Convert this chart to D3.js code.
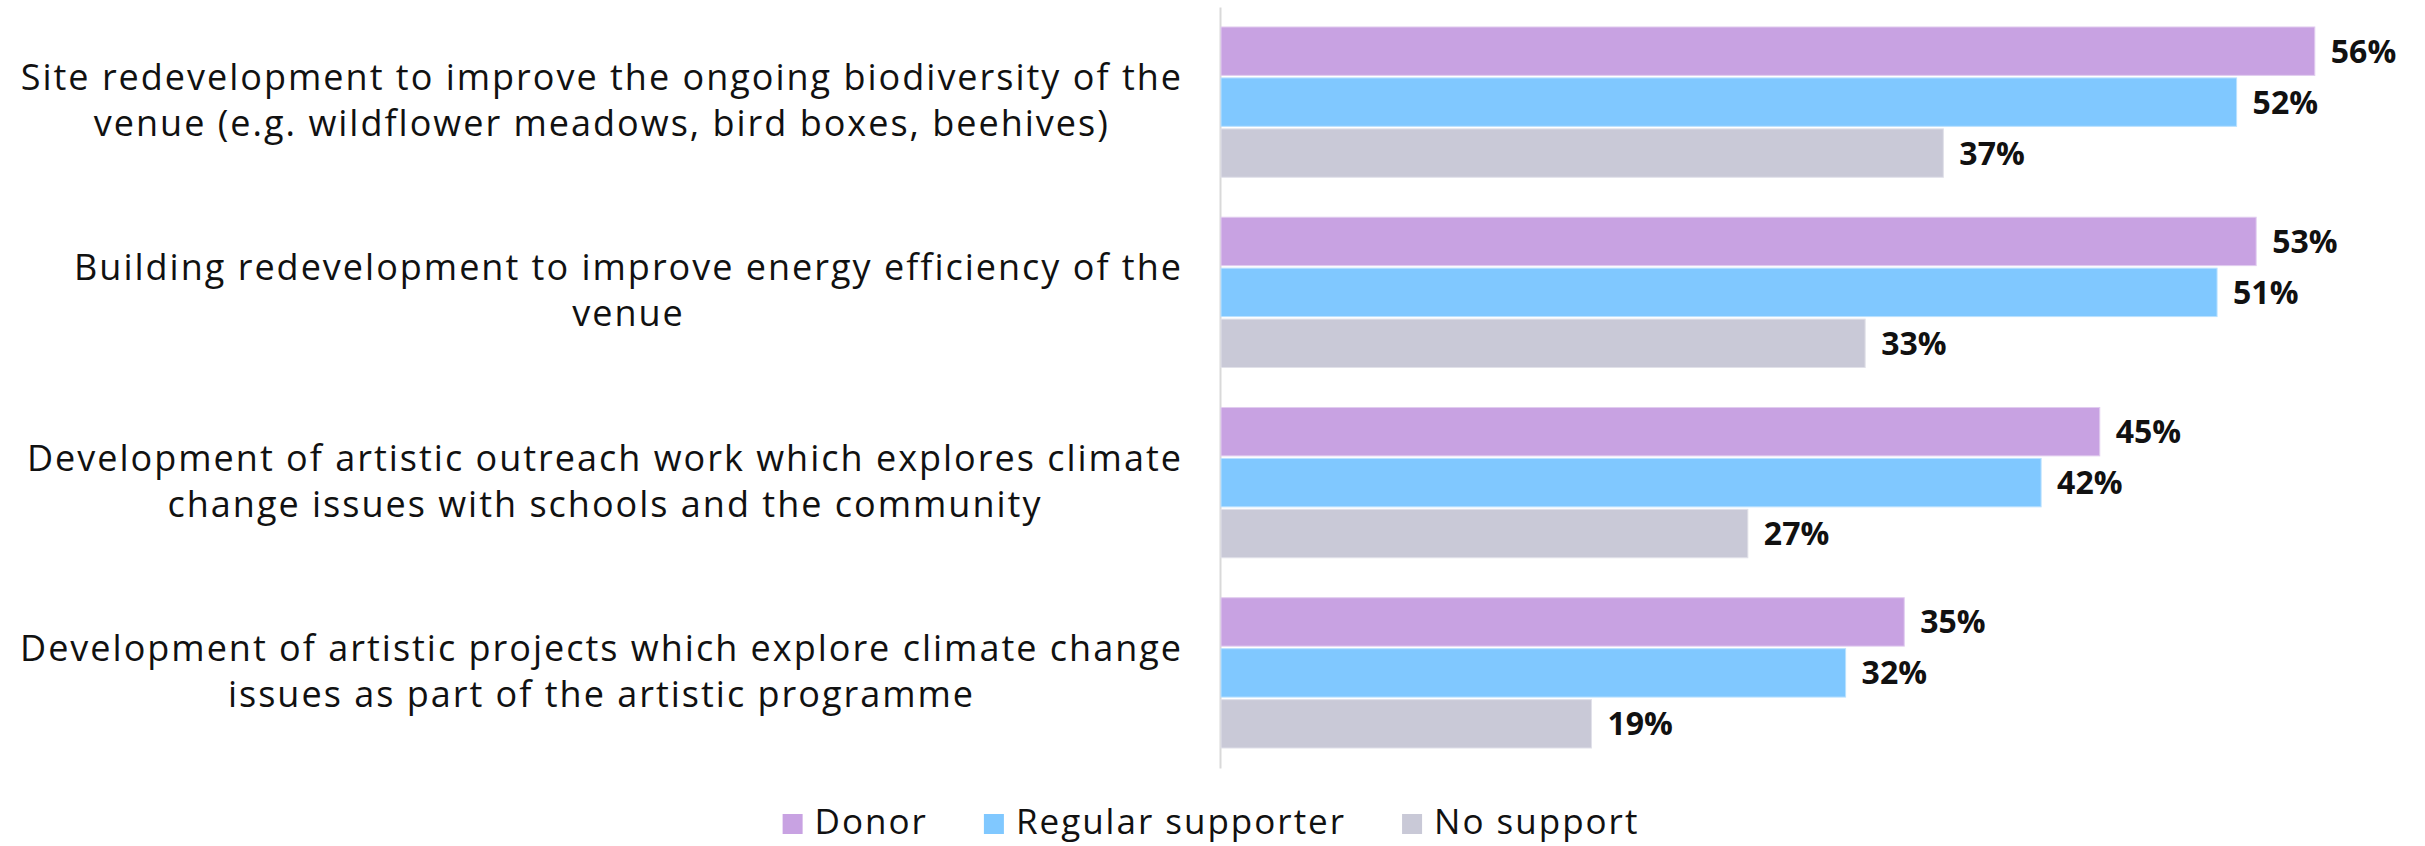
<!DOCTYPE html>
<html><head><meta charset="utf-8">
<script src="https://cdn.jsdelivr.net/npm/d3@7"></script>
<style>body{margin:0;background:#fff} svg{display:block}</style>
</head><body><svg id="c" width="2425" height="846"></svg>
<script>
const categories = [
  ["Site redevelopment to improve the ongoing biodiversity of the", "venue (e.g. wildflower meadows, bird boxes, beehives)"],
  ["Building redevelopment to improve energy efficiency of the", "venue"],
  ["Development of artistic outreach work which explores climate", "change issues with schools and the community"],
  ["Development of artistic projects which explore climate change", "issues as part of the artistic programme"]
];
const seriesNames = ["Donor", "Regular supporter", "No support"];
const donor = [56, 53, 45, 35];
const regular = [52, 51, 42, 32];
const noSupport = [37, 33, 27, 19];
const xTicks = [0, 60];

const colors = ["#C8A2E2", "#80C8FF", "#C9C9D7"];
const seriesValues = [donor, regular, noSupport];
const FONT = "'Open Sans','Noto Sans','DejaVu Sans',sans-serif";

const svg = d3.select("#c");
const idx = categories.map((d, i) => i);

const y0 = d3.scaleBand().domain(idx).range([7, 768]).paddingInner(0.21).paddingOuter(0.105);
const y1 = d3.scaleBand().domain(seriesNames).range([0, y0.bandwidth()]).paddingInner(0.05);
const x = d3.scaleLinear().domain(d3.extent(xTicks)).range([1220, 2393]);

// axis line
const ax = svg.append("g").attr("transform", `translate(${x(0)},0)`)
  .call(d3.axisLeft(y0).tickSize(0).tickSizeOuter(0).tickFormat(""));
ax.select(".domain").attr("stroke", "#d9d9d9").attr("stroke-width", 2);

// bars
const groups = svg.append("g").selectAll("g").data(idx).join("g")
  .attr("transform", i => `translate(0,${y0(i)})`);

groups.selectAll("rect").data(i => seriesNames.map((s, k) => ({s, k, v: seriesValues[k][i]})))
  .join("rect")
  .attr("x", x(0) + 1)
  .attr("y", d => y1(d.s))
  .attr("width", d => x(d.v) - x(0) - 1)
  .attr("height", y1.bandwidth())
  .attr("fill", d => colors[d.k])
  .attr("stroke", d => d3.interpolateRgb(colors[d.k], "#ffffff")(0.45))
  .attr("stroke-width", 1);

groups.selectAll("text.val").data(i => seriesNames.map((s, k) => ({s, k, v: seriesValues[k][i]})))
  .join("text").attr("class", "val")
  .attr("x", d => x(d.v) + 16)
  .attr("y", d => y1(d.s) + y1.bandwidth() / 2)
  .attr("dy", "0.36em")
  .attr("font-family", FONT)
  .attr("font-weight", 700)
  .attr("font-size", 32)
  .attr("fill", "#111111")
  .text(d => d.v + "%");

// category labels
const labelRight = 1183;
const catG = svg.append("g");
idx.forEach(i => {
  const c = y0(i) + y0.bandwidth() / 2;
  const t = catG.append("text")
    .attr("font-family", FONT)
    .attr("font-size", 36)
    .attr("letter-spacing", 2)
    .attr("fill", "#111111")
    .attr("text-anchor", "middle");
  const spans = categories[i].map((line, j) =>
    t.append("tspan").attr("y", c - 12 + j * 46).text(line));
  const maxW = d3.max(spans, s => s.node().getComputedTextLength());
  spans.forEach(s => s.attr("x", labelRight - maxW / 2));
});

// legend
const leg = svg.append("g");
const items = seriesNames.map((s, k) => {
  const g = leg.append("g");
  g.append("rect").attr("x", 0).attr("y", -20).attr("width", 20).attr("height", 20).attr("fill", colors[k]);
  const t = g.append("text").attr("x", 32).attr("y", 0)
    .attr("font-family", FONT).attr("font-size", 35).attr("letter-spacing", 2)
    .attr("fill", "#111111").text(s);
  return {g, w: 32 + t.node().getComputedTextLength()};
});
const gap = 56;
const total = d3.sum(items, d => d.w) + gap * (items.length - 1);
let cx = 1211 - total / 2;
items.forEach(it => { it.g.attr("transform", `translate(${cx},834)`); cx += it.w + gap; });
</script></body></html>
